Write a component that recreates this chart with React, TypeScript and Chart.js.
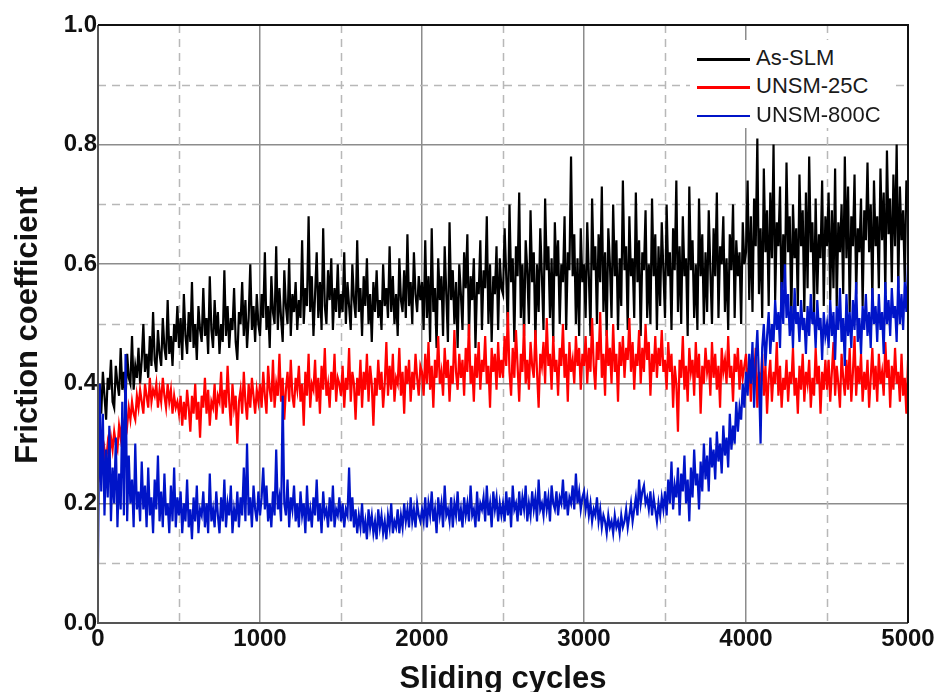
import { useEffect, useRef } from "react";
import { Chart, registerables } from "chart.js";

Chart.register(...registerables);

// Friction coefficient recorded every 10 sliding cycles (0 … 5000)
const sampleInterval = 10;

const asSlm = [
  0.37, 0.40, 0.35, 0.42, 0.38, 0.34, 0.41, 0.39, 0.44, 0.37, 0.36, 0.43, 0.40, 0.38, 0.46, 0.39, 0.42, 0.37, 0.45, 0.41, 0.40, 0.48, 0.39, 0.43, 0.41,
  0.46, 0.40, 0.44, 0.50, 0.42, 0.45, 0.41, 0.48, 0.43, 0.52, 0.44, 0.42, 0.49, 0.45, 0.43, 0.51, 0.46, 0.44, 0.54, 0.45, 0.48, 0.43, 0.50, 0.47, 0.53,
  0.46, 0.51, 0.44, 0.55, 0.48, 0.45, 0.52, 0.47, 0.57, 0.46, 0.50, 0.44, 0.53, 0.49, 0.47, 0.56, 0.48, 0.51, 0.45, 0.58, 0.49, 0.46, 0.54, 0.48, 0.52,
  0.45, 0.50, 0.47, 0.59, 0.48, 0.53, 0.46, 0.51, 0.49, 0.56, 0.47, 0.44, 0.52, 0.50, 0.57, 0.48, 0.54, 0.46, 0.51, 0.60, 0.49, 0.53, 0.47, 0.55, 0.50,
  0.48, 0.55, 0.51, 0.62, 0.49, 0.53, 0.46, 0.58, 0.52, 0.50, 0.63, 0.49, 0.56, 0.51, 0.47, 0.59, 0.53, 0.50, 0.61, 0.48, 0.55, 0.52, 0.57, 0.49, 0.54,
  0.51, 0.64, 0.50, 0.56, 0.53, 0.68, 0.52, 0.58, 0.48, 0.55, 0.62, 0.51, 0.57, 0.49, 0.66, 0.53, 0.50, 0.59, 0.54, 0.61, 0.49, 0.56, 0.52, 0.60, 0.51,
  0.55, 0.52, 0.62, 0.50, 0.57, 0.53, 0.49, 0.60, 0.54, 0.51, 0.64, 0.52, 0.56, 0.48, 0.58, 0.53, 0.61, 0.50, 0.55, 0.47, 0.57, 0.52, 0.59, 0.51, 0.54,
  0.49, 0.60, 0.53, 0.56, 0.51, 0.63, 0.52, 0.58, 0.50, 0.55, 0.48, 0.61, 0.54, 0.52, 0.59, 0.51, 0.65, 0.53, 0.57, 0.50, 0.62, 0.55, 0.52, 0.58, 0.54,
  0.57, 0.49, 0.64, 0.51, 0.58, 0.47, 0.66, 0.52, 0.56, 0.46, 0.61, 0.54, 0.58, 0.48, 0.63, 0.55, 0.47, 0.67, 0.54, 0.59, 0.50, 0.57, 0.46, 0.60, 0.55,
  0.49, 0.62, 0.56, 0.65, 0.48, 0.58, 0.54, 0.61, 0.46, 0.57, 0.55, 0.64, 0.49, 0.59, 0.56, 0.68, 0.50, 0.60, 0.47, 0.58, 0.55, 0.63, 0.49, 0.61, 0.56,
  0.55, 0.66, 0.58, 0.49, 0.70, 0.57, 0.61, 0.47, 0.63, 0.58, 0.72, 0.51, 0.60, 0.48, 0.64, 0.59, 0.50, 0.69, 0.57, 0.62, 0.47, 0.60, 0.52, 0.66, 0.58,
  0.49, 0.71, 0.59, 0.63, 0.51, 0.61, 0.47, 0.67, 0.58, 0.64, 0.50, 0.60, 0.57, 0.68, 0.49, 0.62, 0.59, 0.78, 0.58, 0.65, 0.50, 0.61, 0.48, 0.66, 0.57,
  0.60, 0.51, 0.67, 0.58, 0.48, 0.71, 0.59, 0.63, 0.50, 0.65, 0.57, 0.73, 0.52, 0.62, 0.48, 0.66, 0.60, 0.51, 0.70, 0.58, 0.64, 0.49, 0.61, 0.53, 0.74,
  0.59, 0.63, 0.49, 0.68, 0.58, 0.61, 0.51, 0.72, 0.57, 0.64, 0.48, 0.62, 0.59, 0.69, 0.51, 0.60, 0.50, 0.71, 0.58, 0.65, 0.49, 0.63, 0.53, 0.67, 0.59,
  0.51, 0.70, 0.58, 0.62, 0.49, 0.66, 0.59, 0.74, 0.52, 0.63, 0.50, 0.68, 0.58, 0.61, 0.48, 0.73, 0.59, 0.64, 0.51, 0.60, 0.49, 0.71, 0.58, 0.65, 0.50,
  0.62, 0.52, 0.69, 0.59, 0.50, 0.66, 0.58, 0.72, 0.51, 0.63, 0.60, 0.68, 0.52, 0.61, 0.49, 0.65, 0.59, 0.70, 0.51, 0.64, 0.58, 0.62, 0.50, 0.67, 0.60,
  0.62, 0.74, 0.54, 0.68, 0.52, 0.71, 0.63, 0.81, 0.55, 0.66, 0.51, 0.76, 0.62, 0.69, 0.53, 0.72, 0.61, 0.80, 0.54, 0.67, 0.63, 0.73, 0.52, 0.65, 0.56,
  0.77, 0.62, 0.68, 0.51, 0.70, 0.61, 0.66, 0.53, 0.75, 0.63, 0.69, 0.52, 0.72, 0.56, 0.78, 0.62, 0.67, 0.52, 0.71, 0.55, 0.65, 0.61, 0.74, 0.53, 0.68,
  0.63, 0.72, 0.54, 0.69, 0.56, 0.76, 0.53, 0.67, 0.62, 0.70, 0.55, 0.78, 0.61, 0.73, 0.52, 0.68, 0.63, 0.75, 0.55, 0.66, 0.62, 0.71, 0.53, 0.69, 0.64,
  0.77, 0.62, 0.70, 0.54, 0.74, 0.63, 0.68, 0.56, 0.76, 0.64, 0.72, 0.55, 0.79, 0.65, 0.71, 0.57, 0.75, 0.63, 0.80, 0.56, 0.73, 0.64, 0.69, 0.57, 0.74, 0.72,
];

const unsm25C = [
  0.27, 0.25, 0.28, 0.26, 0.29, 0.27, 0.30, 0.28, 0.31, 0.29, 0.32, 0.30, 0.29, 0.33, 0.31, 0.34, 0.32, 0.35, 0.33, 0.36, 0.34, 0.37, 0.35, 0.34, 0.38,
  0.36, 0.39, 0.37, 0.35, 0.40, 0.38, 0.36, 0.41, 0.37, 0.39, 0.38, 0.40, 0.36, 0.39, 0.37, 0.41, 0.38, 0.36, 0.40, 0.37, 0.39, 0.35, 0.38, 0.36, 0.37,
  0.35, 0.38, 0.33, 0.37, 0.34, 0.39, 0.36, 0.32, 0.38, 0.35, 0.40, 0.34, 0.37, 0.31, 0.38, 0.36, 0.41, 0.35, 0.39, 0.33, 0.37, 0.36, 0.40, 0.34, 0.38,
  0.37, 0.42, 0.35, 0.39, 0.36, 0.43, 0.37, 0.33, 0.40, 0.36, 0.38, 0.30, 0.37, 0.39, 0.35, 0.42, 0.37, 0.34, 0.40, 0.36, 0.41, 0.38, 0.35, 0.39, 0.37,
  0.40, 0.36, 0.42, 0.38, 0.35, 0.43, 0.39, 0.37, 0.44, 0.36, 0.40, 0.38, 0.45, 0.37, 0.41, 0.34, 0.39, 0.42, 0.37, 0.44, 0.38, 0.36, 0.41, 0.39, 0.43,
  0.37, 0.40, 0.33, 0.42, 0.38, 0.45, 0.36, 0.40, 0.39, 0.44, 0.37, 0.41, 0.35, 0.43, 0.39, 0.46, 0.38, 0.40, 0.36, 0.42, 0.39, 0.45, 0.37, 0.41, 0.40,
  0.38, 0.43, 0.36, 0.41, 0.39, 0.46, 0.37, 0.42, 0.40, 0.34, 0.41, 0.38, 0.44, 0.36, 0.42, 0.39, 0.45, 0.37, 0.43, 0.40, 0.33, 0.41, 0.38, 0.44, 0.39,
  0.42, 0.36, 0.40, 0.47, 0.38, 0.43, 0.39, 0.45, 0.37, 0.41, 0.40, 0.46, 0.38, 0.42, 0.35, 0.43, 0.40, 0.44, 0.37, 0.42, 0.39, 0.45, 0.41, 0.38, 0.43,
  0.42, 0.38, 0.45, 0.40, 0.47, 0.39, 0.43, 0.36, 0.44, 0.41, 0.48, 0.40, 0.42, 0.38, 0.46, 0.41, 0.44, 0.37, 0.43, 0.40, 0.49, 0.42, 0.39, 0.45, 0.41,
  0.44, 0.38, 0.46, 0.42, 0.50, 0.40, 0.43, 0.37, 0.45, 0.41, 0.47, 0.39, 0.44, 0.42, 0.48, 0.40, 0.43, 0.36, 0.46, 0.42, 0.45, 0.39, 0.47, 0.41, 0.44,
  0.41, 0.48, 0.43, 0.52, 0.42, 0.38, 0.46, 0.41, 0.49, 0.43, 0.37, 0.45, 0.42, 0.50, 0.40, 0.44, 0.39, 0.47, 0.43, 0.41, 0.49, 0.42, 0.36, 0.45, 0.43,
  0.47, 0.40, 0.51, 0.43, 0.45, 0.39, 0.48, 0.42, 0.44, 0.38, 0.46, 0.43, 0.50, 0.41, 0.45, 0.37, 0.47, 0.42, 0.44, 0.40, 0.48, 0.43, 0.46, 0.39, 0.45,
  0.43, 0.48, 0.40, 0.46, 0.42, 0.51, 0.43, 0.39, 0.47, 0.44, 0.52, 0.41, 0.45, 0.38, 0.49, 0.43, 0.46, 0.40, 0.50, 0.42, 0.45, 0.37, 0.47, 0.43, 0.48,
  0.41, 0.46, 0.44, 0.51, 0.42, 0.47, 0.39, 0.45, 0.43, 0.49, 0.40, 0.46, 0.42, 0.50, 0.44, 0.47, 0.38, 0.45, 0.42, 0.48, 0.41, 0.46, 0.43, 0.49, 0.42,
  0.44, 0.39, 0.47, 0.42, 0.45, 0.36, 0.43, 0.40, 0.32, 0.44, 0.41, 0.48, 0.39, 0.43, 0.37, 0.46, 0.42, 0.44, 0.38, 0.47, 0.41, 0.45, 0.35, 0.43, 0.40,
  0.46, 0.42, 0.44, 0.38, 0.47, 0.41, 0.45, 0.39, 0.43, 0.36, 0.46, 0.42, 0.44, 0.40, 0.48, 0.41, 0.43, 0.37, 0.45, 0.42, 0.46, 0.39, 0.44, 0.41, 0.43,
  0.45, 0.40, 0.43, 0.37, 0.44, 0.41, 0.46, 0.36, 0.42, 0.39, 0.45, 0.38, 0.43, 0.35, 0.41, 0.44, 0.37, 0.42, 0.40, 0.47, 0.38, 0.43, 0.36, 0.41, 0.39,
  0.44, 0.37, 0.42, 0.40, 0.46, 0.38, 0.41, 0.35, 0.43, 0.39, 0.45, 0.37, 0.42, 0.40, 0.44, 0.36, 0.41, 0.38, 0.46, 0.40, 0.43, 0.35, 0.42, 0.39, 0.44,
  0.39, 0.44, 0.37, 0.42, 0.47, 0.38, 0.43, 0.40, 0.36, 0.45, 0.41, 0.38, 0.44, 0.39, 0.46, 0.37, 0.42, 0.48, 0.38, 0.43, 0.40, 0.45, 0.37, 0.42, 0.39,
  0.44, 0.36, 0.41, 0.46, 0.39, 0.43, 0.37, 0.45, 0.40, 0.42, 0.38, 0.47, 0.41, 0.44, 0.36, 0.43, 0.39, 0.46, 0.40, 0.42, 0.37, 0.45, 0.38, 0.41, 0.35, 0.44,
];

const unsm800C = [
  0.10, 0.40, 0.22, 0.35, 0.18, 0.29, 0.21, 0.33, 0.17, 0.26, 0.20, 0.31, 0.16, 0.25, 0.19, 0.37, 0.18, 0.45, 0.17, 0.28, 0.20, 0.24, 0.16, 0.30, 0.19,
  0.22, 0.17, 0.27, 0.19, 0.23, 0.16, 0.26, 0.18, 0.21, 0.15, 0.24, 0.19, 0.28, 0.17, 0.22, 0.16, 0.25, 0.18, 0.20, 0.15, 0.23, 0.17, 0.26, 0.16, 0.21,
  0.18, 0.22, 0.15, 0.20, 0.17, 0.24, 0.16, 0.19, 0.14, 0.21, 0.17, 0.23, 0.15, 0.19, 0.18, 0.22, 0.16, 0.20, 0.15, 0.25, 0.17, 0.19, 0.16, 0.22, 0.18,
  0.15, 0.21, 0.17, 0.24, 0.16, 0.20, 0.18, 0.23, 0.15, 0.19, 0.17, 0.22, 0.16, 0.21, 0.18, 0.26, 0.17, 0.30, 0.18, 0.21, 0.16, 0.23, 0.19, 0.17, 0.22,
  0.18, 0.21, 0.26, 0.19, 0.23, 0.17, 0.20, 0.16, 0.22, 0.18, 0.29, 0.19, 0.21, 0.17, 0.38, 0.20, 0.18, 0.24, 0.16, 0.21, 0.19, 0.23, 0.17, 0.20, 0.16,
  0.22, 0.18, 0.20, 0.15, 0.23, 0.17, 0.19, 0.16, 0.21, 0.18, 0.24, 0.17, 0.20, 0.15, 0.22, 0.18, 0.19, 0.16, 0.21, 0.17, 0.23, 0.16, 0.19, 0.18, 0.21,
  0.17, 0.20, 0.16, 0.19, 0.18, 0.26, 0.17, 0.21, 0.16, 0.19, 0.15, 0.18, 0.16, 0.20, 0.15, 0.17, 0.14, 0.19, 0.16, 0.18, 0.15, 0.17, 0.14, 0.19, 0.16,
  0.18, 0.15, 0.17, 0.14, 0.18, 0.16, 0.20, 0.15, 0.17, 0.16, 0.19, 0.15, 0.18, 0.16, 0.20, 0.17, 0.19, 0.16, 0.21, 0.17, 0.19, 0.16, 0.20, 0.18, 0.17,
  0.19, 0.17, 0.21, 0.16, 0.20, 0.18, 0.22, 0.17, 0.19, 0.15, 0.21, 0.18, 0.20, 0.16, 0.23, 0.18, 0.19, 0.17, 0.21, 0.16, 0.20, 0.18, 0.22, 0.17, 0.19,
  0.16, 0.21, 0.18, 0.20, 0.17, 0.23, 0.18, 0.19, 0.16, 0.22, 0.17, 0.20, 0.19, 0.21, 0.17, 0.23, 0.18, 0.20, 0.16, 0.22, 0.19, 0.21, 0.17, 0.20, 0.18,
  0.20, 0.17, 0.22, 0.18, 0.21, 0.16, 0.23, 0.19, 0.20, 0.17, 0.22, 0.18, 0.21, 0.19, 0.23, 0.17, 0.20, 0.18, 0.22, 0.19, 0.21, 0.17, 0.24, 0.19, 0.20,
  0.18, 0.22, 0.19, 0.21, 0.17, 0.23, 0.20, 0.19, 0.22, 0.18, 0.21, 0.20, 0.24, 0.19, 0.22, 0.18, 0.21, 0.20, 0.23, 0.19, 0.25, 0.20, 0.22, 0.19, 0.21,
  0.22, 0.19, 0.21, 0.18, 0.20, 0.17, 0.19, 0.18, 0.21, 0.17, 0.19, 0.16, 0.18, 0.17, 0.15, 0.18, 0.16, 0.17, 0.15, 0.18, 0.16, 0.17, 0.15, 0.18, 0.16,
  0.17, 0.19, 0.16, 0.18, 0.20, 0.17, 0.19, 0.21, 0.18, 0.24, 0.20, 0.22, 0.23, 0.20, 0.21, 0.19, 0.22, 0.18, 0.21, 0.19, 0.17, 0.20, 0.18, 0.21, 0.19,
  0.22, 0.18, 0.24, 0.20, 0.27, 0.19, 0.23, 0.21, 0.26, 0.18, 0.25, 0.22, 0.28, 0.20, 0.24, 0.17, 0.26, 0.21, 0.29, 0.23, 0.25, 0.19, 0.27, 0.22, 0.30,
  0.24, 0.28, 0.22, 0.31, 0.26, 0.29, 0.24, 0.32, 0.27, 0.30, 0.25, 0.33, 0.28, 0.31, 0.26, 0.35, 0.29, 0.33, 0.30, 0.37, 0.32, 0.36, 0.34, 0.40, 0.36,
  0.42, 0.38, 0.45, 0.40, 0.47, 0.36, 0.44, 0.49, 0.41, 0.30, 0.46, 0.50, 0.43, 0.48, 0.52, 0.45, 0.50, 0.47, 0.54, 0.49, 0.52, 0.46, 0.57, 0.50, 0.60,
  0.51, 0.55, 0.48, 0.53, 0.46, 0.56, 0.50, 0.52, 0.47, 0.54, 0.49, 0.51, 0.45, 0.53, 0.48, 0.55, 0.50, 0.52, 0.46, 0.54, 0.49, 0.51, 0.44, 0.52, 0.48,
  0.50, 0.46, 0.54, 0.48, 0.52, 0.44, 0.53, 0.49, 0.56, 0.47, 0.51, 0.43, 0.55, 0.48, 0.52, 0.46, 0.54, 0.49, 0.57, 0.47, 0.51, 0.45, 0.53, 0.49, 0.55,
  0.48, 0.52, 0.46, 0.56, 0.50, 0.53, 0.47, 0.55, 0.49, 0.52, 0.45, 0.57, 0.50, 0.54, 0.48, 0.56, 0.51, 0.53, 0.47, 0.58, 0.50, 0.55, 0.49, 0.57, 0.52, 0.60,
];

const seriesNames = ["As-SLM", "UNSM-25C", "UNSM-800C"];
const seriesColors = ["#000000", "#ff0000", "#0014c8"];

const xMin = 0;
const xMax = 5000;
const xMajorStep = 1000;
const xMinorStep = 500;
const yMin = 0;
const yMax = 1.0;
const yMinorStep = 0.1;

const xTitle = "Sliding cycles";
const yTitle = "Friction coefficient";

const FONT = "'Liberation Sans', Arial, Helvetica, sans-serif";

const toPoints = (vals: number[]) => vals.map((y, i) => ({ x: i * sampleInterval, y }));

const isMajorX = (v: number) => Math.round(v) % xMajorStep === 0;
const isMajorY = (v: number) => Math.round(v * 10) % 2 === 0;

const decorPlugin = {
  id: "decor",
  beforeDatasetsDraw(chart: any) {
    const { ctx, chartArea: a, scales } = chart;
    const xs = scales.x;
    const ys = scales.y;
    ctx.save();
    ctx.strokeStyle = "#b8b8b8";
    ctx.lineWidth = 1.5;
    ctx.setLineDash([8, 6]);
    for (const t of xs.ticks) {
      if (isMajorX(t.value)) continue;
      const px = Math.round(xs.getPixelForValue(t.value)) + 0.5;
      ctx.beginPath();
      ctx.moveTo(px, a.top);
      ctx.lineTo(px, a.bottom);
      ctx.stroke();
    }
    for (const t of ys.ticks) {
      if (isMajorY(t.value)) continue;
      const py = Math.round(ys.getPixelForValue(t.value)) + 0.5;
      ctx.beginPath();
      ctx.moveTo(a.left, py);
      ctx.lineTo(a.right, py);
      ctx.stroke();
    }
    ctx.restore();
  },
  afterDraw(chart: any) {
    const { ctx, chartArea: a } = chart;
    ctx.save();
    ctx.setLineDash([]);
    ctx.lineWidth = 2;
    ctx.strokeStyle = "#555555";
    ctx.beginPath();
    ctx.moveTo(a.left, a.top);
    ctx.lineTo(a.left, a.bottom);
    ctx.lineTo(a.right, a.bottom);
    ctx.stroke();
    ctx.strokeStyle = "#111111";
    ctx.beginPath();
    ctx.moveTo(a.left, a.top);
    ctx.lineTo(a.right, a.top);
    ctx.lineTo(a.right, a.bottom);
    ctx.stroke();

    ctx.fillStyle = "#111111";
    ctx.font = `bold 31px ${FONT}`;
    ctx.textAlign = "center";
    ctx.textBaseline = "alphabetic";
    ctx.fillText(xTitle, (a.left + a.right) / 2, 688);
    ctx.translate(37, 325);
    ctx.rotate(-Math.PI / 2);
    ctx.fillText(yTitle, 0, 0);
    ctx.restore();
  },
};

export default function App() {
  const ref = useRef<HTMLCanvasElement>(null);

  useEffect(() => {
    const canvas = ref.current;
    if (!canvas) return;
    const seriesValues = [asSlm, unsm25C, unsm800C];
    // later series drawn on top: lower "order" is drawn last
    const datasets = seriesValues.map((vals, i) => ({
      label: seriesNames[i],
      data: toPoints(vals),
      borderColor: seriesColors[i],
      backgroundColor: seriesColors[i],
      borderWidth: 2.2,
      pointRadius: 0,
      tension: 0,
      fill: false,
      order: seriesValues.length - i,
    }));

    const tickFont = { family: FONT, size: 24, weight: "bold" as const };

    const chart = new Chart(canvas, {
      type: "line",
      data: { datasets },
      plugins: [decorPlugin],
      options: {
        animation: false,
        responsive: false,
        devicePixelRatio: 1,
        events: [],
        layout: { padding: { left: 0, top: 25, right: 30, bottom: 0 } },
        plugins: {
          legend: { display: false },
          tooltip: { enabled: false },
          title: { display: false },
        },
        scales: {
          x: {
            type: "linear",
            min: xMin,
            max: xMax,
            afterFit: (s: any) => {
              s.height = 69;
            },
            ticks: {
              stepSize: xMinorStep,
              autoSkip: false,
              maxRotation: 0,
              padding: 2,
              color: "#111111",
              font: tickFont,
              callback: (v: any) => (isMajorX(Number(v)) ? String(v) : ""),
            },
            grid: {
              drawTicks: false,
              lineWidth: 1.5,
              color: (c: any) =>
                c.tick && isMajorX(c.tick.value) ? "#8c8c8c" : "rgba(0,0,0,0)",
            },
            border: { display: false },
          },
          y: {
            type: "linear",
            min: yMin,
            max: yMax,
            afterFit: (s: any) => {
              s.width = 98;
            },
            ticks: {
              stepSize: yMinorStep,
              autoSkip: false,
              padding: 1,
              color: "#111111",
              font: tickFont,
              callback: (v: any) => (isMajorY(Number(v)) ? Number(v).toFixed(1) : ""),
            },
            grid: {
              drawTicks: false,
              lineWidth: 1.5,
              color: (c: any) =>
                c.tick && isMajorY(c.tick.value) ? "#8c8c8c" : "rgba(0,0,0,0)",
            },
            border: { display: false },
          },
        },
      },
    });
    return () => chart.destroy();
  }, []);

  const rowTops = [3, 31, 60];
  const lineHeights = [3, 3, 2.5];

  return (
    <div
      style={{
        position: "fixed",
        left: 0,
        top: 0,
        width: 938,
        height: 692,
        background: "#ffffff",
        overflow: "hidden",
      }}
    >
      <canvas
        ref={ref}
        width={938}
        height={692}
        style={{ display: "block", width: 938, height: 692 }}
      />
      <div
        style={{
          position: "absolute",
          left: 690,
          top: 40,
          width: 206,
          height: 88,
          background: "#ffffff",
          fontFamily: FONT,
          fontSize: 22,
          color: "#1a1a1a",
        }}
      >
        {seriesNames.map((name, i) => (
          <div
            key={name}
            style={{ position: "absolute", left: 0, top: rowTops[i], width: 206, height: 29 }}
          >
            <div
              style={{
                position: "absolute",
                left: 7,
                top: 16 - lineHeights[i] / 2,
                width: 53,
                height: lineHeights[i],
                background: seriesColors[i],
              }}
            />
            <span
              style={{
                position: "absolute",
                left: 66,
                top: 0,
                lineHeight: "29px",
                whiteSpace: "nowrap",
              }}
            >
              {name}
            </span>
          </div>
        ))}
      </div>
    </div>
  );
}
